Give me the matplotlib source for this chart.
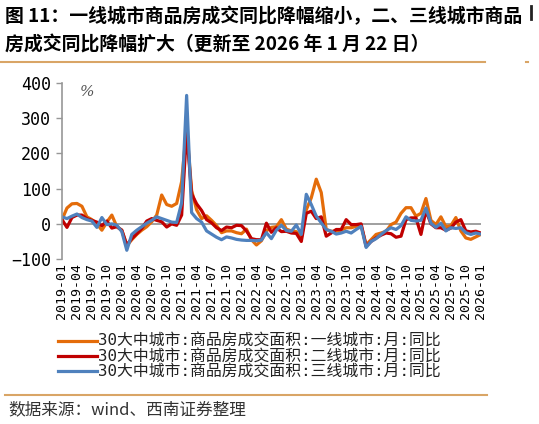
import numpy as np
import pandas as pd
import matplotlib
matplotlib.use("Agg")
import matplotlib.pyplot as plt
from matplotlib.lines import Line2D

plt.rcParams['font.family'] = ['DejaVu Sans Mono', 'Noto Sans CJK SC']

# === data: monthly YoY (%) of transaction area, 30 cities ===
months = pd.date_range("2019-01-01", "2026-01-01", freq="MS").strftime("%Y-%m").tolist()

tier1 = [12, 45, 57, 58, 50, 20, 12, 0, -18, 5,
         25, -8, -18, -62, -45, -30, -18, -8, 6, 25,
         82, 55, 50, 58, 120, 275, 95, 40, 15, 23,
         10, -5, -25, -20, -20, -25, -28, -15, -45, -60,
         -48, -20, -10, -8, 12, -15, -20, -22, -38, 40,
         74, 127, 89, -16, -21, -21, -18, -11, -11, -7,
         -5, -59, -45, -30, -26, -21, -2, 5, 30, 46,
         46, 22, 30, 72, 10, -2, 20, -8, -5, 18,
         -20, -40, -44, -37, -30]

tier2 = [12, -10, 18, 25, 25, 15, 10, 5, -5, 8,
         -12, -8, -18, -60, -42, -28, -13, 8, 15, 10,
         6, -9, 0, -4, 25, 265, 85, 57, 38, 12,
         3, -11, -19, -9, -11, -4, -5, -20, -42, -45,
         -45, 2, -24, -11, -22, -21, -26, -27, -50, 30,
         36, 15, 20, -35, -26, -16, -16, 12, -2, -2,
         0, -64, -50, -40, -32, -26, -28, -38, -35, 12,
         17, 17, -30, 38, 0, -11, -11, -18, -12, 5,
         12, -20, -23, -21, -26]

tier3 = [20, 15, 22, 28, 18, 12, 8, -10, 18, -2,
         0, -4, -22, -75, -30, -18, -8, 2, 10, 20,
         15, 10, 5, 4, 60, 365, 32, 15, 5, -20,
         -29, -38, -45, -37, -40, -44, -46, -47, -47, -48,
         -46, -25, -42, -18, -4, -19, -21, -3, -30, 84,
         55, 22, 3, -16, -21, -29, -26, -21, -26, -16,
         -7, -67, -50, -42, -30, -19, -11, -16, -5, 20,
         10, 8, 10, 45, 2, -10, 2, -20, -11, -13,
         -11, -25, -30, -26, -29]

labels = ["30大中城市:商品房成交面积:一线城市:月:同比",
          "30大中城市:商品房成交面积:二线城市:月:同比",
          "30大中城市:商品房成交面积:三线城市:月:同比"]
colors = ["#E46C0A", "#C00000", "#4F81BD"]

# === figure ===
fig = plt.figure(figsize=(5.39, 4.24), dpi=100)
ax = fig.add_axes([0.115, 0.389, 0.777, 0.415])

x = np.arange(len(months))
for vals, lab, c in zip([tier1, tier2, tier3], labels, colors):
    ax.plot(x, vals, color=c, lw=2.3, label=lab, solid_joinstyle='round')

ax.axhline(0, color="#979797", lw=1.3, zorder=0)
ax.set_xlim(0, len(months) - 1)
ax.set_ylim(-100, 400)
ax.set_yticks([-100, 0, 100, 200, 300, 400])
ax.set_xticks(x[::3])
ax.set_xticklabels(months[::3], rotation=90, fontsize=9.5)
ax.tick_params(axis='x', length=0, pad=3)
ax.tick_params(axis='y', labelsize=12, length=4, color="#979797", width=1, pad=4)
for s in ['top', 'right', 'bottom']:
    ax.spines[s].set_visible(False)
ax.spines['left'].set_color("#979797")
ax.spines['left'].set_linewidth(1.2)

ax.text(0.042, 0.99, "%", transform=ax.transAxes, va='top', ha='left',
        fontsize=11, color="#555555", family='DejaVu Serif', style='italic')

fig.legend(loc='upper left', bbox_to_anchor=(0.107, 0.212), frameon=False,
           fontsize=11.4, labelspacing=0.02, handlelength=2.5, handletextpad=0.05,
           borderpad=0, borderaxespad=0, labelcolor="#222222")

# === title / source ===
tfam = ['Noto Sans CJK SC', 'DejaVu Sans']
fig.text(0.009, 0.962, "图 11：一线城市商品房成交同比降幅缩小，二、三线城市商品",
         fontsize=13.6, fontweight='bold', family=tfam, va='center', ha='left')
fig.text(0.009, 0.893, "房成交同比降幅扩大（更新至 2026 年 1 月 22 日）",
         fontsize=13.6, fontweight='bold', family=tfam, va='center', ha='left')
fig.text(0.015, 0.033, "数据来源：wind、西南证券整理", fontsize=12,
         family=tfam, style='italic', color="#333333", va='center', ha='left')

tan = "#D9A566"
fig.add_artist(Line2D([0.0, 0.9], [0.854, 0.854], color=tan, lw=1.5))
fig.add_artist(Line2D([0.009, 0.903], [0.068, 0.068], color=tan, lw=1.5))
fig.add_artist(Line2D([0.975, 0.98], [0.854, 0.854], color=tan, lw=1.5))
fig.add_artist(Line2D([0.985, 0.985], [0.955, 0.985], color="#222222", lw=2))

fig.savefig("out.png", dpi=100)
